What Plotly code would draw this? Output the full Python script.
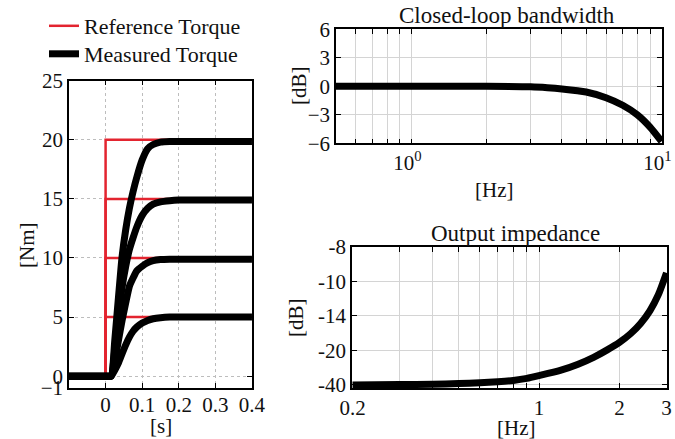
import numpy as np
import plotly.graph_objects as go

# ---------------- data ----------------
# Left panel: torque step responses
t = [-0.1, 0.0, 0.015, 0.025, 0.035, 0.045, 0.055, 0.065, 0.075, 0.085, 0.1,
     0.115, 0.13, 0.15, 0.175, 0.2, 0.25, 0.3, 0.4]
ref_levels = [20, 15, 10, 5]
meas_20 = [0, 0, 0, 3.0, 6.6, 10.1, 12.4, 14.2, 15.6, 16.8, 18.3, 19.25, 19.6, 19.8, 19.85, 19.85, 19.85, 19.85, 19.85]
meas_15 = [0, 0, 0, 2.2, 4.9, 7.5, 9.3, 10.7, 11.7, 12.6, 13.6, 14.2, 14.55, 14.75, 14.85, 14.9, 14.9, 14.9, 14.9]
meas_10 = [0, 0, 0, 1.3, 3.0, 4.7, 6.2, 7.6, 8.3, 8.9, 9.3, 9.6, 9.78, 9.87, 9.9, 9.9, 9.9, 9.9, 9.9]
meas_5 = [0, 0, 0, 0.5, 1.1, 1.9, 2.65, 3.3, 3.8, 4.15, 4.5, 4.72, 4.86, 4.95, 5.0, 5.0, 5.0, 5.0, 5.0]
left_xticks = [0, 0.1, 0.2, 0.3, 0.4]
left_yticks = [-1, 0, 5, 10, 15, 20, 25]

# Top right: closed-loop bandwidth
f_bw = [0.5, 1, 2, 3, 3.5, 4, 5, 6, 7, 8, 9, 10]
bw_db = [0, 0, 0, -0.05, -0.15, -0.28, -0.6, -1.2, -2.0, -3.0, -4.3, -5.8]
bw_yticks = [-6, -3, 0, 3, 6]
bw_xgrid = [0.5, 0.6, 0.7, 0.8, 0.9, 1, 2, 3, 4, 5, 6, 7, 8, 9, 10]
bw_xlabels = {1: "10<sup>0</sup>", 10: "10<sup>1</sup>"}

# Bottom right: output impedance
f_imp = [0.2, 0.3, 0.4, 0.5, 0.6, 0.7, 0.8, 0.9, 1.0, 1.2, 1.4, 1.6, 1.8, 2.0, 2.2, 2.4, 2.6, 2.8, 3.0]
imp_db = [-40.0, -39.8, -39.6, -39.2, -38.8, -38.2, -37.4, -36.2, -34.6, -31.6, -28.0, -24.0,
          -19.9, -18.6, -17.1, -15.3, -13.4, -11.5, -9.5]
imp_ytick_db = [-40, -20, -14, -10, -8]   # equally spaced on the original axis
imp_xgrid = [0.2, 0.3, 0.4, 0.5, 0.6, 0.7, 0.8, 0.9, 1, 2, 3]
imp_xlabels = {0.2: "0.2", 1: "1", 2: "2", 3: "3"}

# ---------------- figure ----------------
W, H = 675, 439
FONT = "Liberation Serif"
TXT = "#111111"
EPS = 0.002

def px(x):
    return x / W

def py(y):
    return 1 - y / H

fig = go.Figure()

# reference steps (red)
for i, lev in enumerate(ref_levels):
    fig.add_trace(go.Scatter(
        x=[-0.1, 0, 0, 0.4], y=[0, 0, lev, lev], mode="lines",
        line=dict(color="#e3242f", width=2.5),
        name="Reference Torque", legend="legend", showlegend=(i == 0),
        xaxis="x", yaxis="y"))

# measured (black)
for i, ser in enumerate([meas_20, meas_15, meas_10, meas_5]):
    fig.add_trace(go.Scatter(
        x=t, y=ser, mode="lines",
        line=dict(color="black", width=7, shape="spline", smoothing=0.5),
        name="Measured Torque", legend="legend2", showlegend=(i == 0),
        xaxis="x", yaxis="y"))

fig.add_trace(go.Scatter(x=f_bw, y=bw_db, mode="lines",
                         line=dict(color="black", width=7, shape="spline", smoothing=0.6),
                         showlegend=False, xaxis="x2", yaxis="y2"))

imp_idx = np.interp(imp_db, imp_ytick_db, list(range(len(imp_ytick_db))))
fig.add_trace(go.Scatter(x=f_imp, y=imp_idx, mode="lines",
                         line=dict(color="black", width=7, shape="spline", smoothing=0.6),
                         showlegend=False, xaxis="x3", yaxis="y3"))

ax_common = dict(showline=True, linecolor="black", linewidth=1.5, mirror="ticks",
                 ticks="inside", ticklen=5, tickcolor="black", tickwidth=1,
                 zeroline=False, automargin=False, ticklabeloverflow="allow",
                 tickfont=dict(family=FONT, size=21, color=TXT))

leg_common = dict(xanchor="left", yanchor="top", font=dict(family=FONT, size=22, color=TXT),
                  bgcolor="rgba(0,0,0,0)", itemwidth=30)

fig.update_layout(
    width=W, height=H, margin=dict(l=0, r=0, t=0, b=0, autoexpand=False),
    paper_bgcolor="white", plot_bgcolor="white",
    font=dict(family=FONT, color=TXT),
    showlegend=True,
    legend=dict(x=px(44), y=py(5), **leg_common),
    legend2=dict(x=px(44), y=py(33), **leg_common),
    xaxis=dict(domain=[px(69), px(252)], range=[-0.1, 0.4 + 1e-4], anchor="y",
               tickvals=left_xticks, ticktext=[f"{v:g}" for v in left_xticks],
               ticklabelstandoff=-3,
               showgrid=True, gridcolor="#bdbdbd", griddash="dot", gridwidth=1, **ax_common),
    yaxis=dict(domain=[py(388), py(80.7)], range=[-1, 25], anchor="x",
               tickvals=left_yticks, showgrid=True, gridcolor="#bdbdbd", griddash="dot",
               gridwidth=1, **ax_common),
    xaxis2=dict(domain=[px(336), px(662)], type="log", range=[np.log10(0.5), 1 + EPS], anchor="y2",
                tickvals=bw_xgrid, ticktext=[bw_xlabels.get(v, "") for v in bw_xgrid],
                ticklabelshift=-4,
                showgrid=True, gridcolor="#d4d4d4", gridwidth=1, **ax_common),
    yaxis2=dict(domain=[py(143.3), py(29.3)], range=[-6, 6], anchor="x2",
                tickvals=bw_yticks, showgrid=True, gridcolor="#d4d4d4", gridwidth=1, **ax_common),
    xaxis3=dict(domain=[px(352), px(667)], type="log",
                range=[np.log10(0.2) - EPS, np.log10(3) + EPS], anchor="y3",
                tickvals=imp_xgrid, ticktext=[imp_xlabels.get(v, "") for v in imp_xgrid],
                showgrid=True, gridcolor="#d4d4d4", gridwidth=1, **ax_common),
    yaxis3=dict(domain=[py(388), py(247)], range=[-0.09, 4], anchor="x3",
                tickvals=list(range(len(imp_ytick_db))), ticktext=[str(v) for v in imp_ytick_db],
                showgrid=True, gridcolor="#d4d4d4", gridwidth=1, **ax_common),
)

def ann(text, x, y, size=21, angle=0):
    fig.add_annotation(text=text, x=px(x), y=py(y), xref="paper", yref="paper",
                       xanchor="center", yanchor="middle", showarrow=False, textangle=angle,
                       font=dict(family=FONT, size=size, color=TXT))

ann("[Nm]", 27, 245, angle=-90)
ann("[s]", 161, 426)
ann("[dB]", 299, 86, angle=-90)
ann("[Hz]", 494, 190)
ann("Closed-loop bandwidth", 507, 16, size=23)
ann("[dB]", 296, 318, angle=-90)
ann("[Hz]", 516, 428)
ann("Output impedance", 515, 233, size=23)

fig.write_html("out.html")
